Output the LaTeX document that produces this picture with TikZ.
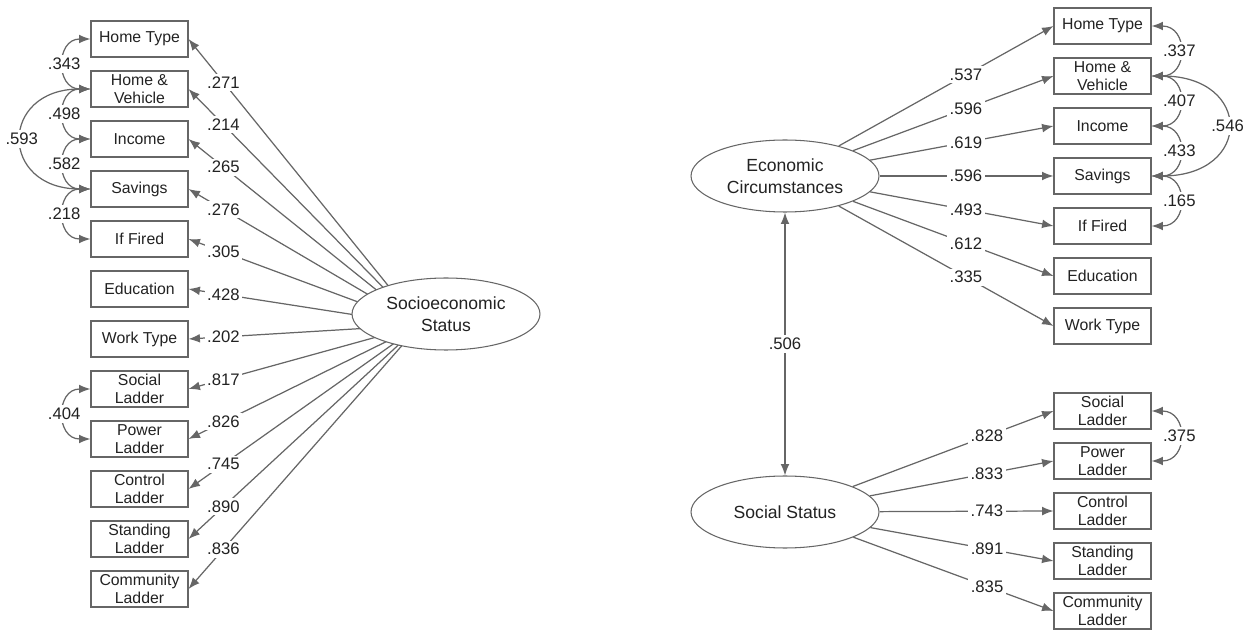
\documentclass[tikz,border=0pt]{standalone}
\usepackage{fontspec}
\setmainfont{Liberation Sans}
\usetikzlibrary{arrows.meta,shapes.geometric}
\definecolor{semgray}{HTML}{666666}
\definecolor{semtext}{HTML}{222222}
\begin{document}
\begin{tikzpicture}[x=0.02cm, y=-0.02cm,
    box/.style={draw=semgray, line width=0.6pt, minimum width=1.94cm, minimum height=0.72cm,
        inner sep=0pt, align=center, text=semtext, font=\fontsize{9}{10}\selectfont},
    latent/.style={ellipse, draw=semgray, fill=white, line width=0.6pt, minimum width=3.76cm, minimum height=1.44cm,
        inner sep=0pt, align=center, text=semtext, font=\fontsize{10}{12.3}\selectfont},
    loadarr/.style={draw=semgray, line width=0.7pt, -{Latex[length=6.5pt,width=5pt]}},
    covarr/.style={draw=semgray, line width=0.7pt, {Latex[length=6.5pt,width=5pt]}-{Latex[length=6.5pt,width=5pt]}},
    coef/.style={fill=white, inner sep=1.5pt, text=semtext, font=\fontsize{9.5}{11}\selectfont}]
    \useasboundingbox (0,0) rectangle (1251,631);

    % one-factor model
    \coordinate (sesfan) at (420,325);
    \foreach \i/\txt in {1/Home Type, 2/{Home \&\\Vehicle}, 3/Income, 4/Savings, 5/If Fired, 6/Education,
        7/Work Type, 8/{Social\\Ladder}, 9/{Power\\Ladder}, 10/{Control\\Ladder}, 11/{Standing\\Ladder},
        12/{Community\\Ladder}}
    \node[box] (l\i) at (139.5,{39+50*(\i-1)}) {\txt};
    \foreach \i/\v in {1/.271, 2/.214, 3/.265, 4/.276, 5/.305, 6/.428, 7/.202, 8/.817, 9/.826, 10/.745,
        11/.890, 12/.836}
    \draw[loadarr] (sesfan) -- (l\i.east) node[coef, pos=.849] {\v};
    \node[latent] (ses) at (446,314) {Socioeconomic\\Status}; % covers the fan
    % residual covariances
    \draw[covarr] (l2.west) to[out=180, in=180, looseness=2.35] node[coef] {.593} (l4.west);
    \draw[covarr] (l1.west) to[out=180, in=180, looseness=1.8] node[coef] {.343} (l2.west);
    \draw[covarr] (l2.west) to[out=180, in=180, looseness=1.8] node[coef] {.498} (l3.west);
    \draw[covarr] (l3.west) to[out=180, in=180, looseness=1.8] node[coef] {.582} (l4.west);
    \draw[covarr] (l4.west) to[out=180, in=180, looseness=1.8] node[coef] {.218} (l5.west);
    \draw[covarr] (l8.west) to[out=180, in=180, looseness=1.8] node[coef] {.404} (l9.west);

    % two-factor model
    \node[latent] (eco) at (785,176) {Economic\\Circumstances};
    \node[latent] (sst) at (785,512) {Social Status};
    \foreach \i/\txt in {1/Home Type, 2/{Home \&\\Vehicle}, 3/Income, 4/Savings, 5/If Fired, 6/Education,
        7/Work Type}
    \node[box] (r\i) at (1102.5,{26+50*(\i-1)}) {\txt};
    \foreach \i/\txt in {1/{Social\\Ladder}, 2/{Power\\Ladder}, 3/{Control\\Ladder}, 4/{Standing\\Ladder},
        5/{Community\\Ladder}}
    \node[box] (s\i) at (1102.5,{411+50*(\i-1)}) {\txt};
    \foreach \i/\v/\p in {1/.537/.592, 2/.596/.563, 3/.619/.523, 4/.596/.497, 5/.493/.523, 6/.612/.563,
        7/.335/.592}
    \draw[loadarr] (eco) -- (r\i.west) node[coef, pos=\p] {\v};
    \foreach \i/\v/\p in {1/.828/.668, 2/.833/.637, 3/.743/.617, 4/.891/.637, 5/.835/.668}
    \draw[loadarr] (sst) -- (s\i.west) node[coef, pos=\p] {\v};
    \draw[covarr] (eco) -- (sst) node[coef, midway] {.506}; % factor correlation
    \draw[covarr] (r2.east) to[out=0, in=0, looseness=2.6] node[coef] {.546} (r4.east);
    \draw[covarr] (r1.east) to[out=0, in=0, looseness=1.9] node[coef] {.337} (r2.east);
    \draw[covarr] (r2.east) to[out=0, in=0, looseness=1.9] node[coef] {.407} (r3.east);
    \draw[covarr] (r3.east) to[out=0, in=0, looseness=1.9] node[coef] {.433} (r4.east);
    \draw[covarr] (r4.east) to[out=0, in=0, looseness=1.9] node[coef] {.165} (r5.east);
    \draw[covarr] (s1.east) to[out=0, in=0, looseness=1.9] node[coef] {.375} (s2.east);
\end{tikzpicture}
\end{document}
